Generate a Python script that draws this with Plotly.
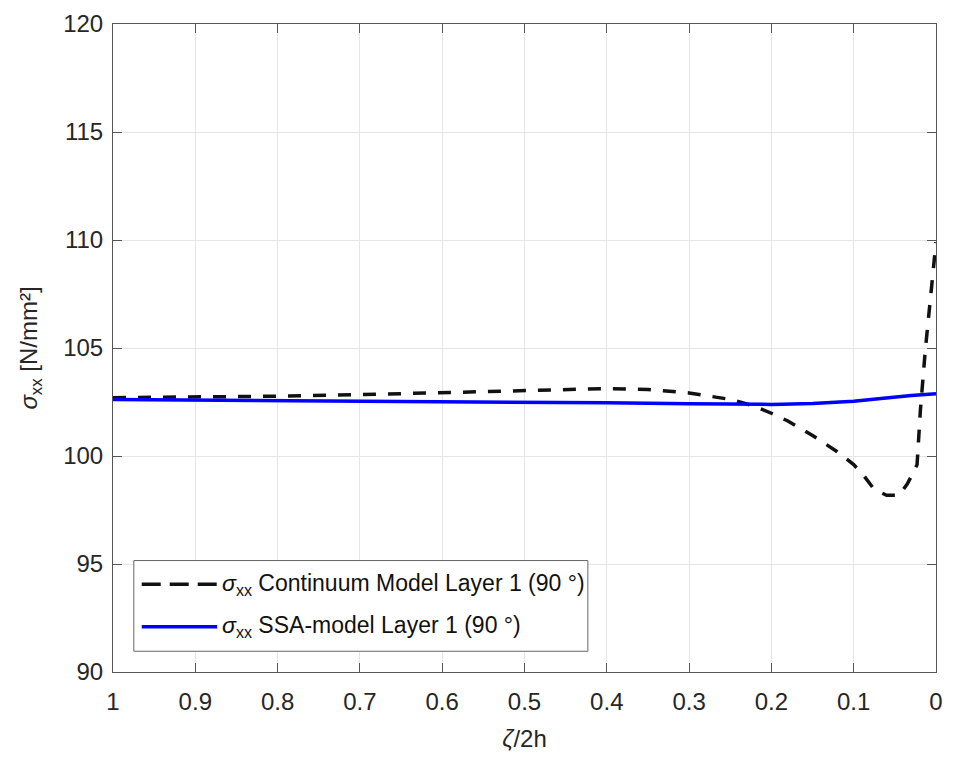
import plotly.graph_objects as go

# Normalised thickness coordinate zeta/2h (axis runs from 1 down to 0)
zeta_cont = [1.0, 0.9, 0.8, 0.7, 0.6, 0.5, 0.4, 0.35, 0.3, 0.25, 0.22, 0.2,
             0.18, 0.15, 0.12, 0.1, 0.09, 0.075, 0.06, 0.045, 0.035, 0.028,
             0.023, 0.019, 0.013, 0.007, 0.0]
sigma_cont = [102.7, 102.72, 102.77, 102.84, 102.94, 103.04, 103.12, 103.08,
              102.92, 102.62, 102.3, 101.98, 101.62, 100.95, 100.2, 99.6,
              99.2, 98.45, 98.18, 98.18, 98.7, 99.2, 99.6, 102.1, 104.9,
              107.2, 109.9]

zeta_ssa = [1.0, 0.9, 0.8, 0.7, 0.6, 0.5, 0.4, 0.3, 0.25, 0.2, 0.15, 0.1,
            0.07, 0.05, 0.03, 0.0]
sigma_ssa = [102.62, 102.6, 102.58, 102.56, 102.53, 102.5, 102.46, 102.42,
             102.4, 102.39, 102.43, 102.54, 102.65, 102.74, 102.8, 102.88]

x_ticks = [1.0, 0.9, 0.8, 0.7, 0.6, 0.5, 0.4, 0.3, 0.2, 0.1, 0.0]
x_tick_text = ["1", "0.9", "0.8", "0.7", "0.6", "0.5", "0.4", "0.3", "0.2", "0.1", "0"]
y_ticks = [90, 95, 100, 105, 110, 115, 120]

legend_labels = ["<i>σ</i><sub>xx</sub> Continuum Model Layer 1 (90 °)",
                 "<i>σ</i><sub>xx</sub> SSA-model Layer 1 (90 °)"]

FONT = "Liberation Sans, Arial, sans-serif"
FONT_SIZE = 24
TEXT_COLOR = "#262626"
AXIS_COLOR = "#555555"
GRID_COLOR = "#e6e6e6"

fig = go.Figure()
fig.add_trace(go.Scatter(
    x=zeta_cont, y=sigma_cont, mode="lines", name=legend_labels[0],
    line=dict(color="#111111", width=3.5, dash="13px,12px"),
    showlegend=False,
))
fig.add_trace(go.Scatter(
    x=zeta_ssa, y=sigma_ssa, mode="lines", name=legend_labels[1],
    line=dict(color="#0000ff", width=3.5),
    showlegend=False,
))

# Boxed legend in the lower-left corner of the axes
legend_box = dict(x0=0.0253, x1=0.577, y0=0.032, y1=0.172)
fig.add_shape(type="rect", xref="paper", yref="paper", layer="above",
              x0=legend_box["x0"], x1=legend_box["x1"],
              y0=legend_box["y0"], y1=legend_box["y1"],
              fillcolor="white", line=dict(color="#666666", width=1))
entry_y = [0.1353, 0.0699]
entry_styles = [dict(color="#111111", width=3.5, dash="19px,9px"),
                dict(color="#0000ff", width=3.5)]
for yy, style, label in zip(entry_y, entry_styles, legend_labels):
    fig.add_shape(type="line", xref="paper", yref="paper", layer="above",
                  x0=0.0349, x1=0.1265, y0=yy, y1=yy, line=style)
    fig.add_annotation(xref="paper", yref="paper", x=0.1295, y=yy,
                       text=label, showarrow=False, xanchor="left",
                       yanchor="middle",
                       font=dict(family=FONT, size=FONT_SIZE - 1, color="#111111"))

axis_common = dict(
    showline=True, linecolor=AXIS_COLOR, linewidth=1, mirror="allticks",
    ticks="inside", ticklen=9, tickcolor=AXIS_COLOR, tickwidth=1,
    showgrid=True, gridcolor=GRID_COLOR, gridwidth=1, zeroline=False,
    tickfont=dict(family=FONT, size=FONT_SIZE, color=TEXT_COLOR),
)

fig.update_xaxes(
    range=[1, 0], tickvals=x_ticks, ticktext=x_tick_text,
    ticklabelstandoff=8,
    title=dict(text="<i>ζ</i>/2h",
               font=dict(family=FONT, size=FONT_SIZE, color=TEXT_COLOR),
               standoff=16),
    **axis_common,
)
fig.update_yaxes(
    range=[90, 120], tickvals=y_ticks, ticklabelstandoff=4,
    title=dict(text="<i>σ</i><sub>xx</sub> [N/mm²]",
               font=dict(family=FONT, size=FONT_SIZE, color=TEXT_COLOR),
               standoff=18),
    **axis_common,
)

fig.update_layout(
    width=953, height=758,
    margin=dict(l=113, r=10, t=15, b=85),
    paper_bgcolor="white", plot_bgcolor="white",
    font=dict(family=FONT, size=FONT_SIZE, color=TEXT_COLOR),
)

fig.write_html("out.html")
